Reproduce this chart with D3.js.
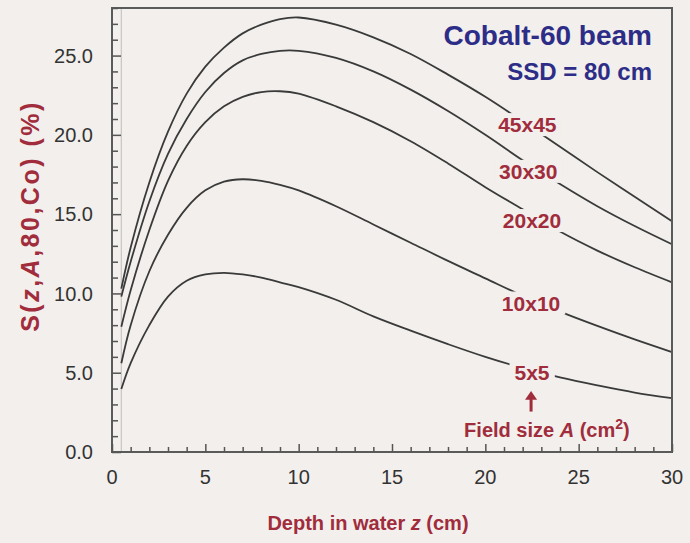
<!DOCTYPE html>
<html>
<head>
<meta charset="utf-8">
<script src="https://cdn.jsdelivr.net/npm/d3@7"></script>
<style>
  html, body { margin: 0; padding: 0; background: #f2efec; }
  svg { display: block; font-family: "Liberation Sans", Arial, sans-serif; }
</style>
</head>
<body>
<svg id="chart" width="690" height="543"></svg>
<script>
// depth z (cm), shared by all curves
const depths = [0.5, 1, 2, 3, 4, 5, 6, 7, 8, 9, 10, 12, 14, 16, 18, 20, 22, 24, 26, 28, 30];

// scatter function S(z, A, 80, Co) in %, one array per field size
const s45 = [10.3, 12.9, 17.0, 20.2, 22.6, 24.3, 25.5, 26.4, 26.95, 27.3, 27.4, 26.95, 26.15, 25.1, 23.8, 22.4, 20.85, 19.25, 17.65, 16.1, 14.55];
const s30 = [9.8, 12.0, 15.8, 18.8, 21.0, 22.7, 23.9, 24.7, 25.1, 25.3, 25.3, 24.85, 24.0, 22.85, 21.5, 20.0, 18.4, 16.9, 15.5, 14.25, 13.1];
const s20 = [7.9, 10.2, 14.0, 17.1, 19.3, 20.8, 21.8, 22.4, 22.7, 22.75, 22.6, 21.8, 20.8, 19.6, 18.2, 16.7, 15.3, 13.9, 12.7, 11.65, 10.7];
const s10 = [5.6, 8.0, 11.4, 13.7, 15.4, 16.5, 17.05, 17.2, 17.1, 16.85, 16.5, 15.5, 14.35, 13.2, 12.05, 10.95, 9.85, 8.85, 7.95, 7.1, 6.3];
const s5 = [3.97, 5.6, 8.0, 9.8, 10.8, 11.2, 11.3, 11.2, 11.0, 10.7, 10.4, 9.6, 8.55, 7.65, 6.8, 6.0, 5.3, 4.7, 4.2, 3.75, 3.4];

const fieldLabels = ["45x45", "30x30", "20x20", "10x10", "5x5"];
// where each label sits on its curve (z, S)
const labelZ = [22.25, 22.3, 22.5, 22.45, 22.5];
const labelS = [20.65, 17.7, 14.6, 9.4, 5.0];

const xTicks = [0, 5, 10, 15, 20, 25, 30];
const yTicks = [0, 5, 10, 15, 20, 25];

const series = [s45, s30, s20, s10, s5];

const svg = d3.select("#chart");
const width = 690;
const height = 543;
const margin = { top: 8, right: 18, bottom: 91, left: 112 };
const innerWidth = width - margin.left - margin.right;
const innerHeight = height - margin.top - margin.bottom;
const bg = "#f2efec";
const red = "#a02c3c";
const blue = "#2d2d88";

const g = svg.append("g").attr("transform", `translate(${margin.left},${margin.top})`);

const x = d3.scaleLinear().domain([0, 30]).range([0, innerWidth]);
const y = d3.scaleLinear().domain([0, 28]).range([innerHeight, 0]);

// faint start line at z = 0.5
g.append("line")
  .attr("x1", x(0.5)).attr("x2", x(0.5))
  .attr("y1", 0).attr("y2", innerHeight)
  .attr("stroke", "#c9c6c2").attr("stroke-width", 1.2);

const line = d3.line()
  .x((d, i) => x(depths[i]))
  .y((d) => y(d))
  .curve(d3.curveCatmullRom.alpha(0.5));

g.selectAll("path.curve")
  .data(series)
  .join("path")
  .attr("class", "curve")
  .attr("d", line)
  .attr("fill", "none")
  .attr("stroke", "#3a3a3a")
  .attr("stroke-width", 1.8);

// curve labels with a background patch that breaks the line
const labelG = g.append("g");
fieldLabels.forEach((t, i) => {
  const lg = labelG.append("g");
  const txt = lg.append("text")
    .attr("x", x(labelZ[i]))
    .attr("y", y(labelS[i]))
    .attr("dy", "0.36em")
    .attr("text-anchor", "middle")
    .attr("font-size", 21)
    .attr("font-weight", "bold")
    .attr("fill", red)
    .text(t);
  const bb = txt.node().getBBox();
  lg.insert("rect", "text")
    .attr("x", bb.x - 5).attr("y", bb.y)
    .attr("width", bb.width + 10).attr("height", bb.height)
    .attr("fill", bg);
});

// frame
g.append("rect")
  .attr("width", innerWidth).attr("height", innerHeight)
  .attr("fill", "none").attr("stroke", "#5a5a5a").attr("stroke-width", 2);

// minor and major ticks, drawn inward
const xAxisG = g.append("g")
  .attr("transform", `translate(0,${innerHeight})`)
  .call(d3.axisBottom(x).tickValues(d3.range(0, 31, 1)).tickFormat("").tickSizeOuter(0));
xAxisG.selectAll(".tick text").remove();
xAxisG.selectAll(".tick line")
  .attr("y2", (d) => (d % 5 === 0 ? -8 : -5))
  .attr("stroke", "#555").attr("stroke-width", 1.5);
xAxisG.select(".domain").remove();

const yAxisG = g.append("g")
  .call(d3.axisLeft(y).tickValues(d3.range(0, 29, 1)).tickFormat("").tickSizeOuter(0));
yAxisG.selectAll(".tick text").remove();
yAxisG.selectAll(".tick line")
  .attr("x2", (d) => (d % 5 === 0 ? 9 : 6))
  .attr("stroke", "#555").attr("stroke-width", 1.5);
yAxisG.select(".domain").remove();

// tick labels
g.append("g").selectAll("text")
  .data(xTicks)
  .join("text")
  .attr("x", (d) => x(d))
  .attr("y", innerHeight + 32)
  .attr("text-anchor", "middle")
  .attr("font-size", 20)
  .attr("fill", "#333")
  .text((d) => d);

g.append("g").selectAll("text")
  .data(yTicks)
  .join("text")
  .attr("x", -19)
  .attr("y", (d) => y(d))
  .attr("dy", "0.36em")
  .attr("text-anchor", "end")
  .attr("font-size", 20)
  .attr("fill", "#333")
  .text((d) => d.toFixed(1));

// axis titles
const xTitle = svg.append("text")
  .attr("x", 368)
  .attr("y", 530)
  .attr("text-anchor", "middle")
  .attr("font-size", 20)
  .attr("font-weight", "bold")
  .attr("fill", red);
xTitle.append("tspan").text("Depth in water ");
xTitle.append("tspan").attr("font-style", "italic").text("z");
xTitle.append("tspan").text(" (cm)");

const yTitle = svg.append("text")
  .attr("transform", "translate(39,216) rotate(-90)")
  .attr("text-anchor", "middle")
  .attr("font-size", 25)
  .attr("font-weight", "bold")
  .attr("letter-spacing", 2.5)
  .attr("fill", red);
yTitle.append("tspan").text("S(");
yTitle.append("tspan").attr("font-style", "italic").text("z");
yTitle.append("tspan").text(",");
yTitle.append("tspan").attr("font-style", "italic").text("A");
yTitle.append("tspan").text(",80,Co) (%)");

// beam description
svg.append("text")
  .attr("x", 652).attr("y", 45)
  .attr("text-anchor", "end")
  .attr("font-size", 28)
  .attr("font-weight", "bold")
  .attr("fill", blue)
  .text("Cobalt-60 beam");
svg.append("text")
  .attr("x", 652).attr("y", 80)
  .attr("text-anchor", "end")
  .attr("font-size", 24)
  .attr("font-weight", "bold")
  .attr("fill", blue)
  .text("SSD = 80 cm");

// field size arrow and note
const ax = x(22.45);
g.append("line")
  .attr("x1", ax).attr("x2", ax)
  .attr("y1", y(2.55)).attr("y2", y(3.5))
  .attr("stroke", red).attr("stroke-width", 3);
g.append("path")
  .attr("d", `M${ax - 6},${y(3.3)} L${ax},${y(3.85)} L${ax + 6},${y(3.3)} Z`)
  .attr("fill", red);

const note = g.append("text")
  .attr("x", x(23.3))
  .attr("y", y(0.95))
  .attr("text-anchor", "middle")
  .attr("font-size", 20)
  .attr("font-weight", "bold")
  .attr("fill", red);
note.append("tspan").text("Field size ");
note.append("tspan").attr("font-style", "italic").text("A");
note.append("tspan").text(" (cm");
note.append("tspan").attr("font-size", 14).attr("dy", -8).text("2");
note.append("tspan").attr("dy", 8).text(")");
</script>
</body>
</html>
